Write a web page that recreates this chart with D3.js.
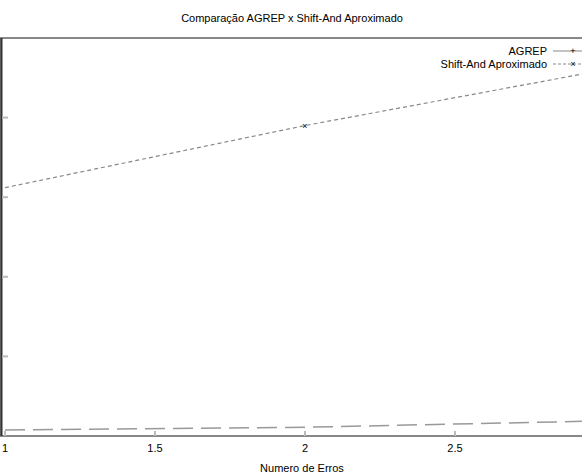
<!DOCTYPE html>
<html><head><meta charset="utf-8">
<script src="https://cdn.jsdelivr.net/npm/d3@7"></script>
<style>body{margin:0;overflow:hidden;background:#fff}text{font-family:"Liberation Sans",Arial,sans-serif;fill:#000}</style>
</head><body><div id="chart"></div>
<script>
// data
var errors = [1, 2, 3];
var agrep = [0.075, 0.11, 0.19];
var shiftAnd = [3.12, 3.9, 4.6];
var xTicks = [1, 1.5, 2, 2.5];
var yTicks = [0, 1, 2, 3, 4, 5];

var margin = {top: 38, left: 5, bottom: 436, right: 605};

var svg = d3.select("#chart").append("svg")
	.attr("width", 582).attr("height", 476);

var x = d3.scaleLinear().domain([1, 3]).range([margin.left, margin.right]);
var y = d3.scaleLinear().domain([0, 5]).range([margin.bottom, margin.top]);

// frame
svg.append("rect")
	.attr("x", 1).attr("y", margin.top)
	.attr("width", margin.right - 1).attr("height", margin.bottom - margin.top)
	.attr("fill", "none").attr("stroke", "#888").attr("stroke-width", 2);
svg.append("line").attr("x1", 1.5).attr("x2", 1.5)
	.attr("y1", margin.top).attr("y2", margin.bottom)
	.attr("stroke", "#333").attr("stroke-width", 2);

// y tick marks (labels cropped off in the reference)
svg.selectAll(".yt").data(yTicks.slice(1, 5)).enter().append("line")
	.attr("x1", 2).attr("x2", 8)
	.attr("y1", d => y(d)).attr("y2", d => y(d))
	.attr("stroke", "#bbb").attr("stroke-width", 2);

// x ticks
svg.selectAll(".xt").data(xTicks).enter().append("line")
	.attr("x1", d => x(d)).attr("x2", d => x(d))
	.attr("y1", margin.bottom - 5).attr("y2", margin.bottom)
	.attr("stroke", "#bbb").attr("stroke-width", 2);
svg.selectAll(".xl").data(xTicks).enter().append("text")
	.attr("x", d => x(d)).attr("y", 452)
	.attr("text-anchor", "middle").attr("font-size", 11)
	.text(d => d);

// lines
var line = d3.line().x((d, i) => x(errors[i])).y(d => y(d));
svg.append("path").datum(agrep).attr("d", line)
	.attr("fill", "none").attr("stroke", "#999").attr("stroke-width", 1.5)
	.attr("stroke-dasharray", "20,8");
svg.append("path").datum(shiftAnd).attr("d", line)
	.attr("fill", "none").attr("stroke", "#888").attr("stroke-width", 1.2)
	.attr("stroke-dasharray", "4,3");
svg.append("text").attr("x", x(2)).attr("y", y(shiftAnd[1]) + 3)
	.attr("text-anchor", "middle").attr("font-size", 9).text("×");

// title and axis label
svg.append("text").attr("x", 292).attr("y", 22)
	.attr("text-anchor", "middle").attr("font-size", 11)
	.text("Comparação AGREP x Shift-And Aproximado");
svg.append("text").attr("x", 302).attr("y", 472)
	.attr("text-anchor", "middle").attr("font-size", 11)
	.text("Numero de Erros");

// legend
var legend = [{name: "AGREP", dash: null, mark: "+"}, {name: "Shift-And Aproximado", dash: "3,2", mark: "×"}];
legend.forEach(function (d, i) {
	var ly = 51 + i * 13;
	svg.append("text").attr("x", 547).attr("y", ly + 4)
		.attr("text-anchor", "end").attr("font-size", 11).text(d.name);
	svg.append("line").attr("x1", 553).attr("x2", 600).attr("y1", ly).attr("y2", ly)
		.attr("stroke", "#888").attr("stroke-dasharray", d.dash);
	svg.append("text").attr("x", 573).attr("y", ly + 3)
		.attr("text-anchor", "middle").attr("font-size", 9).text(d.mark);
});
</script></body></html>
